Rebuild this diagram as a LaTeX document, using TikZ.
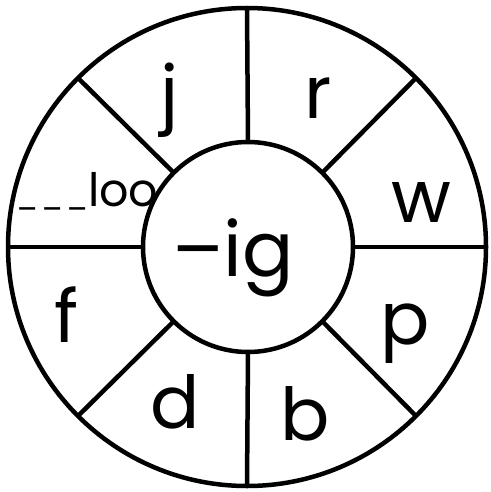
\documentclass[tikz,border=0pt]{standalone}
\usepackage{fontspec}
\setmainfont{Poppins}
\usetikzlibrary{positioning}

\begin{document}
\begin{tikzpicture}[
  x=1pt, y=-1pt,
  ring/.style={draw, circle, line width=4.5pt, outer sep=0pt, inner sep=0pt},
  letter/.style={anchor=base, inner sep=0pt, font=\fontsize{73}{73}\selectfont},
  spoke/.style={line width=4.5pt}
]
\useasboundingbox (0,0) rectangle (490,492);
\node[ring, minimum size=478pt] (rim) at (247,247) {};
\node[ring, minimum size=210pt] (hub) at (248,247) {};
\node[letter, font=\fontsize{76}{76}\selectfont] (ending) at (233,276) {–ig};

\foreach \a in {0,45,...,315} {
  \draw[spoke] (hub.\a) -- (rim.\a);
}

\node[letter] (j) at (170,118) {j};
\node[letter] (r) at (318,118) {r};
\node[letter] (w) at (421,222) {w};
\node[letter] (p) at (405,344) {p};
\node[letter] (b) at (305,440) {b};
\node[letter] (d) at (175,428) {d};
\node[letter] (f) at (67,342) {f};
\node[letter, anchor=base west, font=\fontsize{46}{46}\selectfont] (blend) at (16,206)
  {{\fontsize{30}{30}\selectfont\_\kern3pt\_\kern3pt\_}\kern0pt loo};
\end{tikzpicture}
\end{document}
